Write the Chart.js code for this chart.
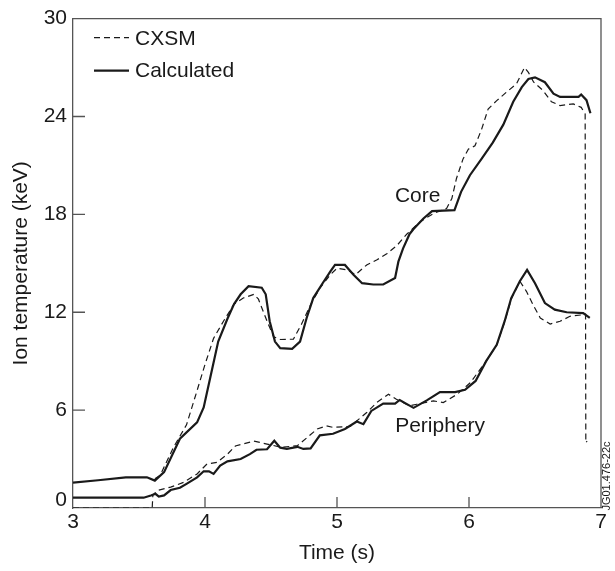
<!DOCTYPE html>
<html>
<head>
<meta charset="utf-8">
<script src="https://cdn.jsdelivr.net/npm/chart.js@4.4.1/dist/chart.umd.min.js"></script>
<style>
  body { margin: 0; background: #fff; }
  canvas { display: block; }
</style>
</head>
<body>
<canvas id="ion-chart" width="615" height="571"></canvas>
<script>
// Time axis ticks and temperature axis ticks
const timeTicks = [3, 4, 5, 6, 7];
const tempTicks = [0, 6, 12, 18, 24, 30];

// Core - calculated (solid)
const coreCalcTime = [3.00, 3.19, 3.40, 3.56, 3.62, 3.69, 3.81, 3.94, 3.99, 4.04, 4.10, 4.17, 4.22, 4.27, 4.33, 4.43, 4.46, 4.49, 4.53, 4.57, 4.66, 4.72, 4.77, 4.82, 4.885, 4.95, 4.985, 5.06, 5.125, 5.19, 5.275, 5.35, 5.44, 5.465, 5.50, 5.55, 5.58, 5.655, 5.72, 5.89, 5.94, 6.007, 6.095, 6.18, 6.26, 6.335, 6.40, 6.45, 6.50, 6.575, 6.64, 6.69, 6.83, 6.85, 6.89, 6.92];
const coreCalcTemp = [1.55, 1.70, 1.88, 1.88, 1.68, 2.2, 4.25, 5.25, 6.16, 8.0, 10.2, 11.6, 12.5, 13.1, 13.6, 13.5, 13.1, 11.45, 10.2, 9.8, 9.76, 10.2, 11.65, 12.87, 13.7, 14.5, 14.9, 14.9, 14.3, 13.78, 13.7, 13.7, 14.1, 15.1, 15.9, 16.8, 17.1, 17.75, 18.2, 18.26, 19.38, 20.4, 21.4, 22.4, 23.5, 24.9, 25.8, 26.3, 26.4, 26.1, 25.4, 25.2, 25.2, 25.35, 25.0, 24.2];

// Core - CXSM (dashed)
const coreCxsmTime = [3.62, 3.66, 3.76, 3.86, 3.94, 4.00, 4.065, 4.14, 4.22, 4.29, 4.37, 4.405, 4.47, 4.52, 4.57, 4.67, 4.73, 4.80, 4.87, 4.95, 5.00, 5.075, 5.14, 5.225, 5.30, 5.38, 5.455, 5.53, 5.63, 5.73, 5.83, 5.87, 5.905, 5.955, 5.995, 6.045, 6.095, 6.145, 6.21, 6.285, 6.36, 6.42, 6.45, 6.49, 6.56, 6.625, 6.69, 6.79, 6.85, 6.88, 6.885, 6.895];
const coreCxsmTemp = [1.8, 2.0, 3.7, 5.1, 7.2, 8.8, 10.4, 11.45, 12.5, 12.87, 13.1, 12.8, 11.45, 10.5, 10.33, 10.35, 11.25, 12.46, 13.48, 14.3, 14.7, 14.6, 14.3, 14.9, 15.2, 15.6, 16.1, 16.8, 17.55, 18.05, 18.36, 18.97, 20.2, 21.4, 22.0, 22.2, 23.2, 24.46, 24.97, 25.5, 26.0, 27.0, 26.7, 26.1, 25.6, 24.9, 24.67, 24.77, 24.56, 24.15, 4.0, 4.1];

// Periphery - calculated (solid)
const perCalcTime = [3.00, 3.535, 3.59, 3.625, 3.65, 3.69, 3.74, 3.81, 3.86, 3.94, 3.99, 4.03, 4.065, 4.115, 4.17, 4.27, 4.34, 4.39, 4.47, 4.525, 4.57, 4.62, 4.70, 4.745, 4.80, 4.87, 4.97, 5.06, 5.15, 5.20, 5.26, 5.35, 5.44, 5.475, 5.58, 5.68, 5.78, 5.895, 5.97, 6.05, 6.13, 6.21, 6.27, 6.32, 6.385, 6.44, 6.50, 6.575, 6.65, 6.74, 6.865, 6.915];
const perCalcTemp = [0.63, 0.63, 0.77, 0.87, 0.7, 0.77, 1.1, 1.24, 1.48, 1.88, 2.25, 2.25, 2.09, 2.6, 2.86, 3.0, 3.3, 3.57, 3.6, 4.12, 3.7, 3.62, 3.75, 3.62, 3.65, 4.45, 4.55, 4.84, 5.3, 5.14, 5.95, 6.4, 6.4, 6.62, 6.14, 6.6, 7.1, 7.1, 7.25, 7.79, 9.0, 10.0, 11.45, 12.87, 13.9, 14.6, 13.78, 12.56, 12.16, 12.0, 11.95, 11.65];

// Periphery - CXSM (dashed)
const perCxsmTime = [3.00, 3.60, 3.605, 3.64, 3.74, 3.84, 3.94, 4.015, 4.09, 4.17, 4.23, 4.37, 4.47, 4.58, 4.70, 4.85, 4.92, 4.97, 5.10, 5.225, 5.30, 5.39, 5.45, 5.55, 5.605, 5.73, 5.805, 5.91, 6.01, 6.13, 6.21, 6.27, 6.32, 6.385, 6.435, 6.485, 6.54, 6.615, 6.69, 6.765, 6.865];
const perCxsmTemp = [0, 0, 0.8, 1.07, 1.28, 1.58, 2.09, 2.7, 2.8, 3.3, 3.8, 4.1, 3.92, 3.72, 3.82, 4.84, 5.04, 4.94, 5.0, 5.85, 6.46, 6.97, 6.67, 6.26, 6.36, 6.57, 6.46, 6.97, 7.68, 9.0, 10.0, 11.4, 12.8, 13.9, 13.28, 12.46, 11.65, 11.28, 11.45, 11.75, 11.85];

const FONT = "'Liberation Sans', Arial, Helvetica, sans-serif";
const INK = '#1a1a1a';
const FRAME = '#555';

function toPoints(times, temps) {
    return times.map((t, i) => ({ x: t, y: temps[i] }));
}

function solidSet(label, times, temps) {
    return { label: label, data: toPoints(times, temps), borderColor: INK, borderWidth: 2.2, fill: false };
}

function dashedSet(label, times, temps) {
    return { label: label, data: toPoints(times, temps), borderColor: INK, borderWidth: 1.2, borderDash: [6, 4], fill: false };
}

// Frame, inward tick marks and the text inside the plot
const decorPlugin = {
    id: 'decor',
    afterDraw(chart) {
        const ctx = chart.ctx;
        const area = chart.chartArea;
        const xs = chart.scales.x;
        const ys = chart.scales.y;
        ctx.save();
        ctx.strokeStyle = FRAME;
        ctx.lineWidth = 1.3;
        ctx.beginPath();
        ctx.moveTo(area.left, area.top);
        ctx.lineTo(area.right, area.top);
        ctx.lineTo(area.right, area.bottom);
        ctx.stroke();

        // tick marks pointing into the plot
        ctx.beginPath();
        timeTicks.slice(1, -1).forEach(t => {
            const px = xs.getPixelForValue(t);
            ctx.moveTo(px, area.bottom);
            ctx.lineTo(px, area.bottom - 11);
        });
        tempTicks.slice(1, -1).forEach(v => {
            const py = ys.getPixelForValue(v);
            ctx.moveTo(area.left, py);
            ctx.lineTo(area.left + 12, py);
        });
        ctx.stroke();

        // the zero label sits a little above the x axis
        ctx.fillStyle = INK;
        ctx.font = '21px ' + FONT;
        ctx.textAlign = 'right';
        ctx.textBaseline = 'middle';
        ctx.fillText(String(tempTicks[0]), area.left - 6, ys.getPixelForValue(tempTicks[0]) - 8);

        // legend
        ctx.strokeStyle = INK;
        ctx.setLineDash([6, 4]);
        ctx.lineWidth = 1.2;
        ctx.beginPath();
        ctx.moveTo(area.left + 21, area.top + 19);
        ctx.lineTo(area.left + 56, area.top + 19);
        ctx.stroke();
        ctx.setLineDash([]);
        ctx.lineWidth = 2.2;
        ctx.beginPath();
        ctx.moveTo(area.left + 21, area.top + 52);
        ctx.lineTo(area.left + 56, area.top + 52);
        ctx.stroke();

        ctx.textAlign = 'left';
        ctx.fillText('CXSM', area.left + 62, area.top + 21);
        ctx.fillText('Calculated', area.left + 62, area.top + 53);

        // curve labels
        ctx.textAlign = 'center';
        ctx.fillText('Core', xs.getPixelForValue(5.611), ys.getPixelForValue(19.1));
        ctx.fillText('Periphery', xs.getPixelForValue(5.781), ys.getPixelForValue(5.04));

        // figure reference code
        ctx.font = '11px ' + FONT;
        ctx.translate(area.right + 6, area.bottom - 32);
        ctx.rotate(-Math.PI / 2);
        ctx.fillText('JG01.476-22c', 0, 0);
        ctx.restore();
    }
};

const ctx = document.getElementById('ion-chart').getContext('2d');
const ionChart = new Chart(ctx, {
    type: 'line',
    data: {
        datasets: [
            dashedSet('Core CXSM', coreCxsmTime, coreCxsmTemp),
            solidSet('Core calculated', coreCalcTime, coreCalcTemp),
            dashedSet('Periphery CXSM', perCxsmTime, perCxsmTemp),
            solidSet('Periphery calculated', perCalcTime, perCalcTemp)
        ]
    },
    options: {
        responsive: false,
        animation: false,
        layout: { padding: { top: 16, right: 14, left: 0, bottom: 0 } },
        elements: { point: { radius: 0 }, line: { tension: 0 } },
        plugins: { legend: { display: false }, tooltip: { enabled: false } },
        scales: {
            x: {
                type: 'linear',
                min: 3,
                max: 7,
                afterFit: scale => { scale.height = 63; },
                afterBuildTicks: scale => { scale.ticks = timeTicks.map(v => ({ value: v })); },
                ticks: { color: INK, font: { family: FONT, size: 21 }, padding: 2 },
                grid: { display: false, drawTicks: false },
                border: { display: true, color: FRAME, width: 1.3 },
                title: { display: true, text: 'Time (s)', color: INK, font: { family: FONT, size: 21 }, padding: { top: 0, bottom: 5 } }
            },
            y: {
                min: 0,
                max: 30,
                afterFit: scale => { scale.width = 73; },
                afterBuildTicks: scale => { scale.ticks = tempTicks.map(v => ({ value: v })); },
                ticks: {
                    color: INK,
                    font: { family: FONT, size: 21 },
                    padding: 6,
                    callback: v => (v === tempTicks[0] ? '' : String(v))
                },
                grid: { display: false, drawTicks: false },
                border: { display: true, color: FRAME, width: 1.3 },
                title: { display: true, text: 'Ion temperature (keV)', color: INK, font: { family: FONT, size: 21 }, padding: { top: 9, bottom: 0 } }
            }
        }
    },
    plugins: [decorPlugin]
});
</script>
</body>
</html>
